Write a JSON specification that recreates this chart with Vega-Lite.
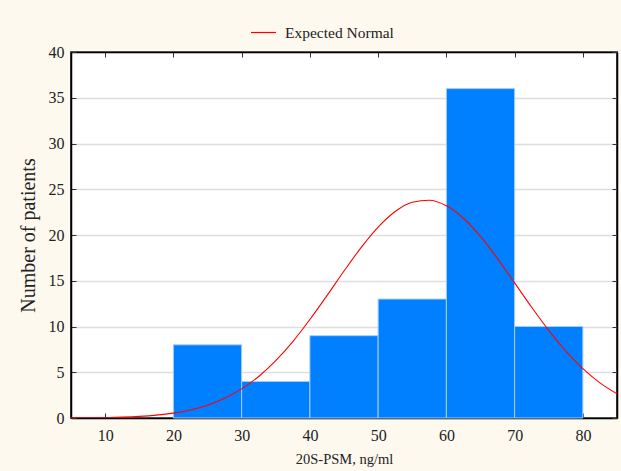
{
  "$schema": "https://vega.github.io/schema/vega-lite/v6.json",
  "width": 546,
  "height": 366,
  "autosize": {"type": "none"},
  "padding": {"left": 71, "top": 52, "right": 4, "bottom": 53},
  "background": "#fdf9ef",
  "config": {
    "view": {"fill": "white", "stroke": "black", "strokeWidth": 1.5},
    "font": "Liberation Serif",
    "axis": {
      "labelFont": "Liberation Serif",
      "titleFont": "Liberation Serif",
      "labelColor": "#222",
      "titleColor": "#222",
      "titleFontWeight": "normal",
      "labelFontSize": 16,
      "titleFontSize": 15,
      "domainColor": "black",
      "tickColor": "#333",
      "tickSize": -5,
      "gridColor": "#dedede",
      "gridWidth": 1.5
    },
    "legend": {"labelFont": "Liberation Serif", "labelFontSize": 15.5, "labelColor": "#222"}
  },
  "datasets": {
    "bins": [
      {"lo": 20, "hi": 30, "count": 8},
      {"lo": 30, "hi": 40, "count": 4},
      {"lo": 40, "hi": 50, "count": 9},
      {"lo": 50, "hi": 60, "count": 13},
      {"lo": 60, "hi": 70, "count": 36},
      {"lo": 70, "hi": 80, "count": 10}
    ],
    "curve": [
      {"x": 5, "y": 0.013, "series": "Expected Normal"},
      {"x": 7.5, "y": 0.027, "series": "Expected Normal"},
      {"x": 10, "y": 0.052, "series": "Expected Normal"},
      {"x": 12.5, "y": 0.098, "series": "Expected Normal"},
      {"x": 15, "y": 0.179, "series": "Expected Normal"},
      {"x": 17.5, "y": 0.316, "series": "Expected Normal"},
      {"x": 20, "y": 0.537, "series": "Expected Normal"},
      {"x": 22.5, "y": 0.884, "series": "Expected Normal"},
      {"x": 25, "y": 1.40, "series": "Expected Normal"},
      {"x": 27.5, "y": 2.15, "series": "Expected Normal"},
      {"x": 30, "y": 3.18, "series": "Expected Normal"},
      {"x": 32.5, "y": 4.54, "series": "Expected Normal"},
      {"x": 35, "y": 6.27, "series": "Expected Normal"},
      {"x": 37.5, "y": 8.35, "series": "Expected Normal"},
      {"x": 40, "y": 10.76, "series": "Expected Normal"},
      {"x": 42.5, "y": 13.37, "series": "Expected Normal"},
      {"x": 45, "y": 16.06, "series": "Expected Normal"},
      {"x": 47.5, "y": 18.62, "series": "Expected Normal"},
      {"x": 50, "y": 20.86, "series": "Expected Normal"},
      {"x": 52.5, "y": 22.57, "series": "Expected Normal"},
      {"x": 55, "y": 23.58, "series": "Expected Normal"},
      {"x": 57.5, "y": 23.80, "series": "Expected Normal"},
      {"x": 60, "y": 23.19, "series": "Expected Normal"},
      {"x": 62.5, "y": 21.83, "series": "Expected Normal"},
      {"x": 65, "y": 19.84, "series": "Expected Normal"},
      {"x": 67.5, "y": 17.42, "series": "Expected Normal"},
      {"x": 70, "y": 14.77, "series": "Expected Normal"},
      {"x": 72.5, "y": 12.10, "series": "Expected Normal"},
      {"x": 75, "y": 9.57, "series": "Expected Normal"},
      {"x": 77.5, "y": 7.31, "series": "Expected Normal"},
      {"x": 80, "y": 5.39, "series": "Expected Normal"},
      {"x": 82.5, "y": 3.84, "series": "Expected Normal"},
      {"x": 85, "y": 2.64, "series": "Expected Normal"}
    ]
  },
  "layer": [
    {
      "data": {"name": "bins"},
      "mark": {"type": "rect", "fill": "#0080ff", "stroke": "#a6cdff", "strokeWidth": 1},
      "encoding": {
        "x": {
          "field": "lo", "type": "quantitative",
          "scale": {"domain": [5, 85], "nice": false, "zero": false},
          "axis": {
            "orient": "bottom", "values": [10, 20, 30, 40, 50, 60, 70, 80],
            "title": "20S-PSM, ng/ml", "titleFontSize": 14.5, "labelPadding": 14, "titlePadding": 9,
            "grid": false, "domainWidth": 1.5
          }
        },
        "x2": {"field": "hi"},
        "y": {
          "field": "count", "type": "quantitative",
          "scale": {"domain": [0, 40], "nice": false},
          "axis": {
            "orient": "left", "values": [0, 5, 10, 15, 20, 25, 30, 35, 40],
            "title": "Number of patients", "titleFontSize": 20, "labelPadding": 12, "titlePadding": 10,
            "grid": true, "domainWidth": 1.5
          }
        },
        "y2": {"datum": 0}
      }
    },
    {
      "data": {"name": "curve"},
      "mark": {"type": "line", "strokeWidth": 1.1, "interpolate": "monotone", "clip": true},
      "encoding": {
        "x": {
          "field": "x", "type": "quantitative",
          "scale": {"domain": [5, 85], "nice": false, "zero": false},
          "axis": {"orient": "top", "values": [10, 20, 30, 40, 50, 60, 70, 80], "labels": false, "title": null, "grid": false, "domainWidth": 1.5}
        },
        "y": {
          "field": "y", "type": "quantitative",
          "scale": {"domain": [0, 40], "nice": false},
          "axis": {"orient": "right", "values": [0, 5, 10, 15, 20, 25, 30, 35, 40], "labels": false, "title": null, "grid": false, "domainWidth": 1.5}
        },
        "color": {
          "field": "series", "type": "nominal",
          "scale": {"range": ["#ff0000"]},
          "legend": {
            "title": null, "orient": "none", "legendX": 179, "legendY": -33,
            "symbolType": "stroke", "symbolSize": 625, "symbolStrokeWidth": 1.2,
            "labelOffset": 8, "padding": 0
          }
        }
      }
    }
  ],
  "resolve": {"axis": {"x": "independent", "y": "independent"}}
}
